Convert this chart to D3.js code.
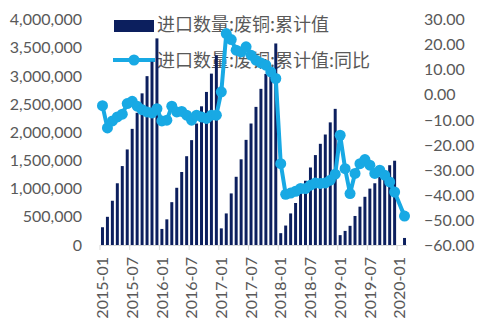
<!DOCTYPE html>
<html><head><meta charset="utf-8">
<script src="https://cdn.jsdelivr.net/npm/d3@7"></script>
<style>
body{margin:0;background:#fff;}
svg{display:block;}
.ax text{font-family:Lato,"Liberation Sans",sans-serif;font-size:16px;fill:#595959;}
.leg{font-family:"Noto Sans CJK SC",sans-serif;font-size:18px;fill:#595959;}
</style></head>
<body><svg id="c" width="481" height="326"></svg>
<script>
const months = [];
for (let y = 2015; y <= 2019; y++) for (let m = 1; m <= 12; m++) months.push(y + "-" + String(m).padStart(2, "0"));
months.push("2020-01", "2020-02");

const cumulative = [
  315000, 500000, 785000, 1095000, 1400000, 1695000, 2060000, 2345000, 2690000, 2995000, 3250000, 3665000,
  285000, 455000, 760000, 1015000, 1295000, 1575000, 1860000, 2155000, 2460000, 2715000, 3040000, 3365000,
  295000, 560000, 915000, 1210000, 1520000, 1865000, 2155000, 2450000, 2770000, 3035000, 3160000, 3575000,
  210000, 345000, 560000, 745000, 935000, 1140000, 1375000, 1595000, 1795000, 1960000, 2175000, 2415000,
  175000, 250000, 340000, 515000, 680000, 855000, 1000000, 1095000, 1210000, 1315000, 1415000, 1495000,
  null, 125000
];
const yoy = [
  -4.3, -13.2, -10.4, -8.8, -7.7, -3.5, -2.6, -4.5, -5.9, -6.8, -7.2, -5.5,
  -10.4, -10.1, -4.5, -6.8, -6.6, -8.1, -10.1, -8.1, -8.8, -9.4, -8.1, -8.1,
  1.2, 24.4, 22.0, 17.8, 17.1, 19.1, 15.8, 13.8, 12.7, 11.8, 9.1, 6.5,
  -27.4, -39.6, -39.1, -38.4, -37.3, -37.3, -36.0, -35.1, -35.3, -35.1, -34.0, -31.6,
  -16.1, -29.4, -39.3, -31.3, -27.4, -25.8, -28.0, -31.3, -30.0, -32.0, -34.7, -38.7,
  null, -48.3
];
const leftTicks = [0, 500000, 1000000, 1500000, 2000000, 2500000, 3000000, 3500000, 4000000];
const rightTicks = [30, 20, 10, 0, -10, -20, -30, -40, -50, -60];
const xLabels = ["2015-01","2015-07","2016-01","2016-07","2017-01","2017-07","2018-01","2018-07","2019-01","2019-07","2020-01"];
const seriesNames = ["进口数量:废铜:累计值", "进口数量:废铜:累计值:同比"];

const barColor = "#0c1f5e", lineColor = "#18a9e4";
const svg = d3.select("#c");
const pTop = 19.5, pBottom = 245, pLeft = 100, pRight = 407;

const x = d3.scaleBand().domain(months).range([pLeft, pRight]).paddingInner(0.4).paddingOuter(0.2);
const yL = d3.scaleLinear().domain([0, 4000000]).range([pBottom, pTop]);
const yR = d3.scaleLinear().domain([-60, 30]).range([pBottom + 0.5, pTop]);

// legend (drawn beneath the series, as in the reference)
const lg = svg.append("g");
lg.append("rect").attr("x", 114).attr("y", 20).attr("width", 40).attr("height", 12).attr("fill", barColor);
lg.append("text").attr("class", "leg").attr("x", 157).attr("y", 24.5).attr("dy", "0.36em").text(seriesNames[0]);
lg.append("line").attr("x1", 113).attr("x2", 155).attr("y1", 60).attr("y2", 60)
  .attr("stroke", lineColor).attr("stroke-width", 4);
lg.append("circle").attr("cx", 134).attr("cy", 60).attr("r", 5.5).attr("fill", lineColor);
lg.append("text").attr("class", "leg").attr("x", 157).attr("y", 61).attr("dy", "0.36em").text(seriesNames[1]);

// bars
svg.append("g").selectAll("rect")
  .data(months.map((m, i) => ({m, v: cumulative[i]})).filter(d => d.v != null))
  .join("rect")
  .attr("x", d => x(d.m))
  .attr("width", x.bandwidth())
  .attr("y", d => yL(d.v))
  .attr("height", d => yL(0) - yL(d.v))
  .attr("fill", barColor);

// x axis
const xa = svg.append("g").attr("class", "ax").attr("transform", `translate(0,${pBottom})`)
  .call(d3.axisBottom(x).tickValues(xLabels).tickSize(5).tickSizeOuter(0));
xa.select(".domain").attr("stroke", "#d9d9d9").attr("d", `M${pLeft},0.5H${pRight}`);
xa.selectAll(".tick line").attr("stroke", "#d9d9d9").attr("transform", `translate(${-x.step() / 2},0)`);
xa.selectAll(".tick text").attr("transform", "rotate(-90)").attr("text-anchor", "end")
  .attr("x", -12).attr("y", 0).attr("dy", "0.36em");

// left axis
const la = svg.append("g").attr("class", "ax").attr("transform", "translate(88,0)")
  .call(d3.axisLeft(yL).tickValues(leftTicks).tickFormat(d3.format(",")).tickSize(0).tickPadding(6));
la.select(".domain").remove();

// right axis
const ra = svg.append("g").attr("class", "ax").attr("transform", "translate(418,0)")
  .call(d3.axisRight(yR).tickValues(rightTicks).tickFormat(d3.format(".2f")).tickSize(0).tickPadding(6));
ra.select(".domain").remove();

// line
const pts = months.map((m, i) => ({m, v: yoy[i]})).filter(d => d.v != null);
const line = d3.line().x(d => x(d.m) + x.bandwidth() / 2).y(d => yR(d.v));
svg.append("path").datum(pts).attr("d", line).attr("fill", "none")
  .attr("stroke", lineColor).attr("stroke-width", 4).attr("stroke-linejoin", "round");
svg.append("g").selectAll("circle").data(pts).join("circle")
  .attr("cx", d => x(d.m) + x.bandwidth() / 2).attr("cy", d => yR(d.v)).attr("r", 5.5)
  .attr("fill", lineColor);
</script></body></html>
